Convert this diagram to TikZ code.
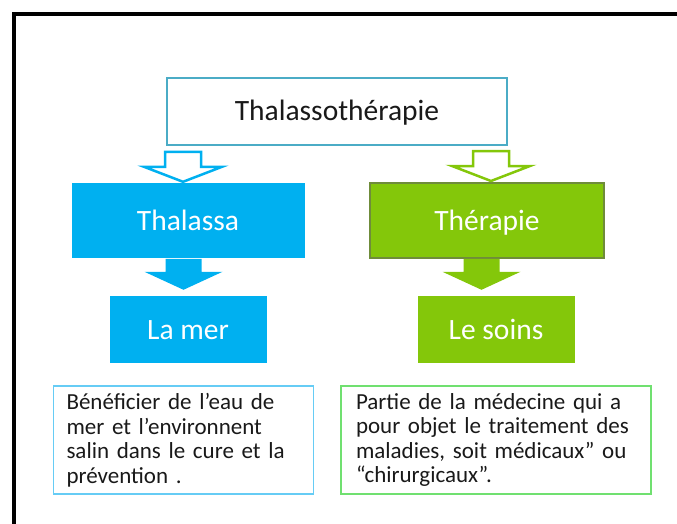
\documentclass[tikz,border=0pt]{standalone}
\usepackage{fontspec}
\setmainfont{Carlito}
\usepackage{xcolor}
\usepackage{tikz}
\usetikzlibrary{shapes, calc}
\definecolor{seaBlue}{HTML}{00B0F0}
\definecolor{careGreen}{HTML}{84C70A}
\definecolor{titleLine}{HTML}{4BACC6}
\definecolor{oliveLine}{HTML}{6F8C3A}
\definecolor{noteBlue}{HTML}{66CCF5}
\definecolor{noteGreen}{HTML}{70E070}
\tikzstyle{titleBox} = [rectangle, draw=titleLine, line width=2.5pt, minimum width=340pt, minimum height=67pt, text height=25pt, text depth=7pt, text=black!90, font=\fontsize{29.5}{34}\selectfont]
\tikzstyle{blueBox} = [rectangle, fill=seaBlue, text=white, text height=25pt, text depth=6pt, font=\fontsize{29.5}{34}\selectfont]
\tikzstyle{greenBox} = [rectangle, fill=careGreen, text=white, text height=25pt, text depth=6pt, font=\fontsize{29.5}{34}\selectfont]
\tikzstyle{noteBox} = [rectangle, line width=1.5pt, align=left, minimum height=108pt, inner ysep=0pt, text=black!90, font=\fontsize{23}{24.5}\selectfont]
\tikzstyle{hollowArrow} = [line width=2.5pt, fill=white]
\tikzstyle{solidArrow} = [draw=none]
% block arrow: style, tip, head height, shaft length
\newcommand{\blockArrow}[4]{\draw[#1] (#2) -- ++(-39,-#3) -- ++(21,0) -- ++(0,-#4) -- ++(36,0) -- ++(0,#4) -- ++(21,0) -- cycle;}

\begin{document}
\begin{tikzpicture}[x=1pt, y=-1pt, node distance=109pt]
\useasboundingbox (0,0) rectangle (677,524);
\draw [line width=3.5pt] (14,530) -- (14,14) -- (682,14);

\node (top) [titleBox] at (337,111.5) {Thalassothérapie};
\node (thalassa) [blueBox, below of = top, xshift=-149pt, minimum width=233pt, minimum height=75pt] {Thalassa};
\node (therapie) [greenBox, below of = top, xshift=150pt, minimum width=234pt, minimum height=75pt, draw=oliveLine, line width=2pt] {Thérapie};
\node (lamer) [blueBox, below of = thalassa, minimum width=157pt, minimum height=67pt] {La mer};
\node (lesoins) [greenBox, below of = therapie, xshift=9pt, minimum width=157pt, minimum height=67pt] {Le soins};
\node (sea) [noteBox, draw=noteBlue, below of = lamer, xshift=-4.5pt, yshift=-1.5pt, text width=234pt, inner xsep=13pt]
  {Bénéficier de l’eau de\\ mer et l’environnent\\ salin dans le cure et la\\ prévention .};
\node (care) [noteBox, draw=noteGreen, below of = lesoins, yshift=-1.5pt, text width=280pt, inner xsep=15pt]
  {Partie de la médecine qui a\\ pour objet le traitement des\\ maladies, soit médicaux” ou\\ “chirurgicaux”.};

\coordinate (tipA) at ($(thalassa.north)+(-5,-1)$);
\coordinate (tipB) at ($(therapie.north)+(4,-1)$);
\coordinate (tipC) at ($(lamer.north)+(-4.5,-6)$);
\coordinate (tipD) at ($(lesoins.north)+(-14.5,-6)$);
\blockArrow{hollowArrow, draw=seaBlue}{tipA}{15}{15}
\blockArrow{hollowArrow, draw=careGreen}{tipB}{15}{15}
\blockArrow{solidArrow, fill=seaBlue}{tipC}{18}{13}
\blockArrow{solidArrow, fill=careGreen}{tipD}{18}{13}
\end{tikzpicture}
\end{document}
